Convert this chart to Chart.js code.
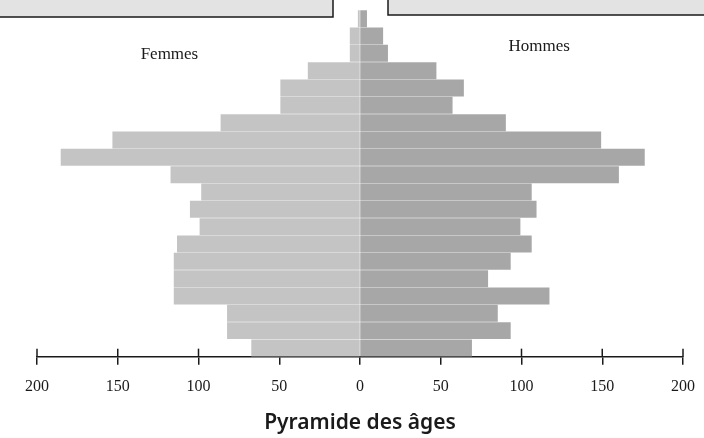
<!DOCTYPE html>
<html>
<head>
<meta charset="utf-8">
<script src="https://cdn.jsdelivr.net/npm/chart.js@4/dist/chart.umd.min.js"></script>
<style>
  html, body { margin: 0; padding: 0; background: #fff; }
  #wrap { width: 704px; height: 438px; position: relative; }
</style>
</head>
<body>
<div id="wrap"><canvas id="pyramid"></canvas></div>
<script>
// Tranches d'âge, de la plus âgée (en haut) à la plus jeune (en bas)
const ageGroups = [
  "95-99", "90-94", "85-89", "80-84", "75-79", "70-74", "65-69", "60-64",
  "55-59", "50-54", "45-49", "40-44", "35-39", "30-34", "25-29", "20-24",
  "15-19", "10-14", "5-9", "0-4",
]

const femmes = [1, 6, 6, 32, 49, 49, 86, 153, 185, 117, 98, 105, 99, 113, 115, 115, 115, 82, 82, 67]
const hommes = [4, 14, 17, 47, 64, 57, 90, 149, 176, 160, 106, 109, 99, 106, 93, 79, 117, 85, 93, 69]

const tickValues = [-200, -150, -100, -50, 0, 50, 100, 150, 200]
const bigTicks = [-200, -150, -100, 100, 150, 200]

// Décor : cadres du haut, libellés, ticks longs
const decorPlugin = {
  id: "decor",
  beforeDraw(chart) {
    const ctx = chart.ctx
    ctx.save()
    ctx.fillStyle = "#e3e3e3"
    ctx.strokeStyle = "#1a1a1a"
    ctx.lineWidth = 1.5
    ctx.fillRect(-2, -2, 335, 19)
    ctx.strokeRect(-2, -2, 335, 19)
    ctx.fillRect(388, -2, 318, 17)
    ctx.strokeRect(388, -2, 318, 17)
    ctx.restore()
  },
  afterDraw(chart) {
    const ctx = chart.ctx
    const x = chart.scales.x
    const axisY = x.top
    ctx.save()
    ctx.strokeStyle = "#1a1a1a"
    ctx.lineWidth = 1.5
    bigTicks.forEach((v) => {
      const px = x.getPixelForValue(v)
      ctx.beginPath()
      ctx.moveTo(px, axisY - 8)
      ctx.lineTo(px, axisY)
      ctx.stroke()
    })
    ctx.fillStyle = "#1a1a1a"
    ctx.font = "17px 'Liberation Serif'"
    ctx.textAlign = "center"
    ctx.textBaseline = "middle"
    ctx.fillText("Femmes", x.getPixelForValue(-118), 55)
    ctx.fillText("Hommes", x.getPixelForValue(111), 47)
    ctx.restore()
  },
}

new Chart(document.getElementById("pyramid"), {
  type: "bar",
  data: {
    labels: ageGroups,
    datasets: [
      {
        label: "Femmes",
        data: femmes.map((v) => -v),
        backgroundColor: "#c4c4c4",
        borderWidth: 0,
        inflateAmount: 0.5,
        categoryPercentage: 1,
        barPercentage: 0.92,
      },
      {
        label: "Hommes",
        data: hommes,
        backgroundColor: "#a7a7a7",
        borderWidth: 0,
        inflateAmount: 0.5,
        categoryPercentage: 1,
        barPercentage: 0.92,
      },
    ],
  },
  options: {
    indexAxis: "y",
    responsive: true,
    maintainAspectRatio: false,
    animation: false,
    layout: { padding: { top: 10, left: 37, right: 21, bottom: 3 } },
    plugins: {
      legend: { display: false },
      tooltip: { enabled: false },
      title: {
        display: true,
        position: "bottom",
        text: "Pyramide des âges",
        color: "#1a1a1a",
        font: { family: "'Noto Sans'", size: 21, weight: "600", lineHeight: 1.15 },
        padding: { top: 1, bottom: 0 },
      },
    },
    scales: {
      x: {
        min: -200,
        max: 200,
        afterBuildTicks: (scale) => {
          scale.ticks = tickValues.map((v) => ({ value: v }))
        },
        afterFit: (scale) => {
          // les libellés extrêmes débordent dans la marge, pas de rembourrage en plus
          scale.paddingLeft = 0
          scale.paddingRight = 0
        },
        grid: {
          drawOnChartArea: false,
          drawTicks: true,
          tickLength: 8,
          color: "#1a1a1a",
          lineWidth: 1.5,
        },
        border: { display: true, color: "#1a1a1a", width: 1.5 },
        ticks: {
          color: "#1a1a1a",
          font: { family: "'Liberation Serif'", size: 16 },
          padding: 13,
          maxRotation: 0,
          callback: (v) => Math.abs(v),
        },
      },
      y: {
        display: false,
        stacked: true,
      },
    },
  },
  plugins: [decorPlugin],
})
</script>
</body>
</html>
